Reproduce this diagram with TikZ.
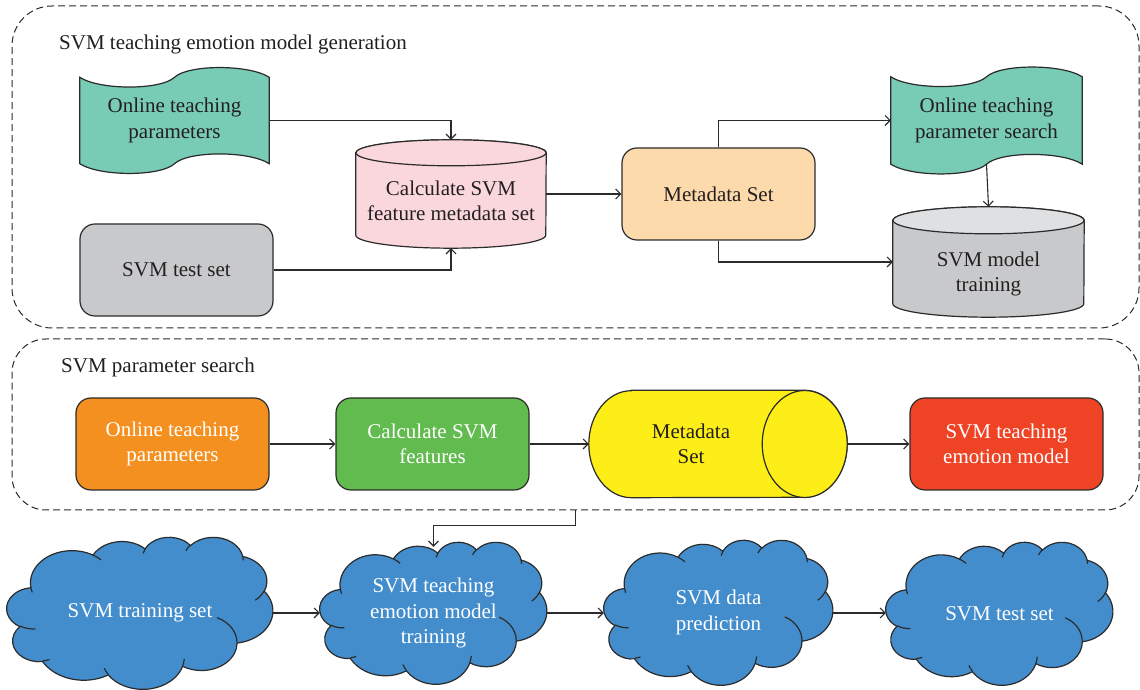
\documentclass[tikz,border=0pt]{standalone}
\usepackage{fontspec}
\setmainfont{Liberation Serif}
\usetikzlibrary{arrows.meta,calc,backgrounds}
\definecolor{linecol}{HTML}{2B2B2B}
\definecolor{txtcol}{HTML}{231F20}
\definecolor{cteal}{HTML}{78CBB4}
\definecolor{cpink}{HTML}{FAD7DC}
\definecolor{cgray}{HTML}{C8C9CB}
\definecolor{cgraytop}{HTML}{DFE0E2}
\definecolor{cpeach}{HTML}{FDDAAC}
\definecolor{corange}{HTML}{F4901F}
\definecolor{cgreen}{HTML}{62BB4E}
\definecolor{cyellow}{HTML}{FCEE16}
\definecolor{cred}{HTML}{EF4326}
\definecolor{cblue}{HTML}{438DCC}
\tikzset{
  every node/.style={font=\fontsize{21}{25.5}\selectfont, text=txtcol, align=center},
  box/.style={rectangle, rounded corners=15pt, draw=linecol, line width=1.2pt,
    minimum width=193pt, minimum height=92pt, inner sep=0pt},
  ghost/.style={rectangle, inner sep=0pt},
  conn/.style={draw=linecol, line width=1.1pt, -{Straight Barb[length=5pt,width=10pt]}},
  group/.style={rectangle, draw=linecol, line width=1pt, dash pattern=on 7pt off 4pt, inner sep=0pt},
  cloudn/.style={rectangle, inner sep=0pt, text=white},
  shp/.style={draw=linecol, line width=1.2pt},
}
\newcommand\tapeshape[2]{%
  \path[shp, fill=#2] (#1.north west)
    .. controls ($(#1.north west)+(20,-13)$) and ($(#1.north)+(-14,-13)$) .. (#1.north)
    .. controls ($(#1.north)+(14,13)$) and ($(#1.north east)+(-20,13)$) .. (#1.north east)
    -- (#1.south east)
    .. controls ($(#1.south east)+(-20,13)$) and ($(#1.south)+(14,13)$) .. (#1.south)
    .. controls ($(#1.south)+(-14,-13)$) and ($(#1.south west)+(20,-13)$) .. (#1.south west)
    -- cycle;}
\newcommand\vcyl[5]{%
  \path[shp, fill=#2] ($(#1.north west)+(0,-#5)$) -- ($(#1.south west)+(0,#5)$)
    arc[start angle=180, end angle=360, x radius=#4, y radius=#5]
    -- ($(#1.north east)+(0,-#5)$)
    arc[start angle=0, end angle=180, x radius=#4, y radius=#5] -- cycle;
  \path[shp, fill=#3] ($(#1.north)+(0,-#5)$) ellipse[x radius=#4, y radius=#5];}
% arc given as radii, visual start angle and sweep
\newcommand\ooarc[4]{\pgfextra{%
  \pgfmathsetmacro\ooA{atan2(#1*sin(#3),#2*cos(#3))}%
  \pgfmathsetmacro\ooB{atan2(#1*sin(#3+#4),#2*cos(#3+#4))}%
  \pgfmathsetmacro\ooD{mod(\ooB-\ooA+720,360)}}
  arc[start angle=\ooA, delta angle=\ooD, x radius=#1, y radius=#2]}
\newcommand\officecloud[3]{%
  \begin{scope}[shift={(#1.north west)}, xscale=#2/432, yscale=-#3/432]
  \path[shp, fill=cblue] (39,143.7)
    \ooarc{67.53}{91.90}{-190.4875}{123.7805}
    \ooarc{53.33}{72.67}{-144.1024}{89.9452}
    \ooarc{43.65}{59.45}{-145.8079}{99.7230}
    \ooarc{48.57}{65.95}{-130.9861}{117.2417}
    \ooarc{53.33}{72.73}{-78.7089}{109.0269}
    \ooarc{67.75}{92.20}{-46.2673}{130.2690}
    \ooarc{57.85}{78.67}{0.6250}{114.0333}
    \ooarc{67.52}{92.15}{22.4516}{115.1726}
    \ooarc{77.20}{105.43}{66.2426}{75.7110}
    \ooarc{43.60}{59.18}{-274.9421}{146.7356}
    \ooarc{43.45}{59.45}{-246.8285}{152.5189}
    -- cycle;
  \path[shp]
    (46.93,261.77) \ooarc{43.45}{59.45}{86.7420}{26.4295}
    (69.28,348.99) \ooarc{43.60}{59.18}{73.6105}{11.4475}
    (164.78,390.90) \ooarc{67.52}{92.15}{137.6242}{14.0811}
    (288.27,347.51) \ooarc{67.52}{92.15}{6.4533}{15.9984}
    (341.29,229.54) \ooarc{57.85}{78.67}{-70.2924}{70.9174}
    (417.98,153.54) \ooarc{53.33}{72.73}{30.3180}{27.7515}
    (383.24,54.26) \ooarc{48.57}{65.95}{-13.7443}{14.8589}
    (290.78,39.52) \ooarc{48.57}{65.95}{-149.1815}{18.1954}
    (221.41,47.20) \ooarc{43.65}{59.45}{-163.4943}{17.6864}
    (140.00,51.92) \ooarc{67.53}{91.90}{-66.7070}{12.3194}
    (41.27,157.89) \ooarc{67.53}{91.90}{157.6544}{11.8582};
  \end{scope}}
\begin{document}
\begin{tikzpicture}[x=1pt, y=1pt]
\useasboundingbox (0,0) rectangle (1140,690);

% groups
\node[group, rounded corners=40pt, minimum width=1127pt, minimum height=322pt] (g1) at (575.5,523) {};
\node[group, rounded corners=34pt, minimum width=1127pt, minimum height=171pt] (g2) at (575.5,265.5) {};
\node[anchor=west, inner sep=0pt] (t1) at (59,646) {SVM teaching emotion model generation};
\node[anchor=west, inner sep=0pt] (t2) at (61,323) {SVM parameter search};

% top section
\node[ghost, minimum width=189pt, minimum height=86pt] (tape1) at (174.5,569.5) {Online teaching\\parameters};
\node[ghost, minimum width=190pt, minimum height=108pt] (cyl1) at (451,496) {};
\node (cyl1txt) at (451,489) {Calculate SVM\\feature metadata set};
\node[box, fill=cgray] (test1) at (176.5,420) {SVM test set};
\node[box, fill=cpeach] (meta1) at (718.5,496) {Metadata Set};
\node[ghost, minimum width=191pt, minimum height=87pt] (tape2) at (986.5,569.5) {Online teaching\\parameter search};
\node[ghost, minimum width=191pt, minimum height=110pt] (cyl2) at (988.5,428) {};
\node (cyl2txt) at (988.5,416) {SVM model\\training};

% middle section
\node[box, fill=corange, text=white] (orange) at (172.5,246) {Online teaching\\parameters};
\node[box, fill=cgreen, text=white] (green) at (432.5,246) {Calculate SVM\\features};
\node[ghost, minimum width=258pt, minimum height=107pt] (ycyl) at (718,246) {};
\node (ycyltxt) at (691,246) {Metadata\\Set};
\node[box, fill=cred, text=white] (red) at (1006.5,246) {SVM teaching\\emotion model};

% bottom clouds
\node[cloudn, minimum width=266pt, minimum height=152pt] (c1) at (140,77) {SVM training set};
\node[cloudn, minimum width=227pt, minimum height=142pt] (c2) at (433.5,77) {SVM teaching\\emotion model\\training};
\node[cloudn, minimum width=229pt, minimum height=145pt] (c3) at (718.5,77.5) {SVM data\\prediction};
\node[cloudn, minimum width=227pt, minimum height=143pt] (c4) at (999.5,76.5) {SVM test set};

\begin{scope}[on background layer]
  \tapeshape{tape1}{cteal}
  \tapeshape{tape2}{cteal}
  \vcyl{cyl1}{cpink}{cpink}{95}{13}
  \vcyl{cyl2}{cgray}{cgraytop}{95.5}{13.5}
  \path[shp, fill=cyellow] ($(ycyl.north west)+(42.5,0)$) -- ($(ycyl.north east)+(-42.5,0)$)
    arc[start angle=90, end angle=-90, x radius=42.5, y radius=53.5]
    -- ($(ycyl.south west)+(42.5,0)$)
    arc[start angle=270, end angle=90, x radius=42.5, y radius=53.5] -- cycle;
  \path[shp, fill=cyellow] ($(ycyl.east)+(-42.5,0)$) ellipse[x radius=42.5, y radius=53.5];
  \officecloud{c1}{266}{152}
  \officecloud{c2}{227}{142}
  \officecloud{c3}{229}{145}
  \officecloud{c4}{227}{143}
\end{scope}

% connectors
\draw[conn] (tape1.east) -| (cyl1.north);
\draw[conn] (test1.east) -| (cyl1.south);
\draw[conn] (cyl1.east) -- (meta1.west);
\draw[conn] (meta1.north) |- (tape2.west);
\draw[conn] (meta1.south) |- (cyl2.west);
\draw[conn] (tape2.south) -- (cyl2.north);
\draw[conn] (orange.east) -- (green.west);
\draw[conn] (green.east) -- (ycyl.west);
\draw[conn] (ycyl.east) -- (red.west);
\draw[conn, shorten >=-5pt] (g2.south) -- ++(0,-15) -| (c2.north);
\draw[conn] (c1.east |- 0,77) -- (c2.west |- 0,77);
\draw[conn] (c2.east |- 0,77) -- (c3.west |- 0,77);
\draw[conn] (c3.east |- 0,77) -- (c4.west |- 0,77);
\end{tikzpicture}
\end{document}
